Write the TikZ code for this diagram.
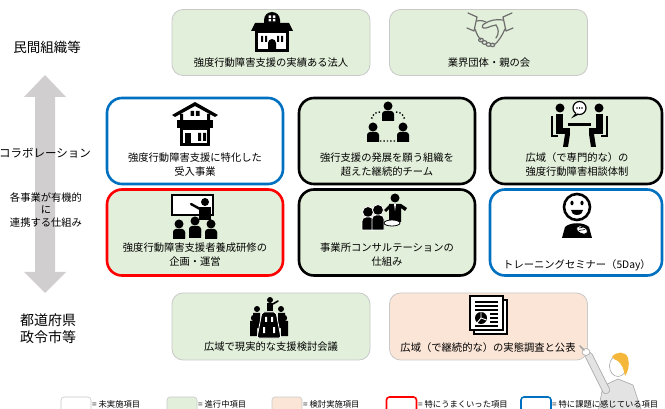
\documentclass[tikz,border=0pt]{standalone}
\usepackage{fontspec}
\setmainfont{Noto Sans CJK JP}
\definecolor{gfill}{HTML}{E2EFDA}
\definecolor{pfill}{HTML}{FBE5D6}
\definecolor{softline}{HTML}{C9C9C9}
\definecolor{bblue}{HTML}{0070C0}
\definecolor{rred}{HTML}{FF0000}
\definecolor{arrowgray}{HTML}{D0CECE}
\definecolor{hair}{HTML}{F4B73A}
\definecolor{handgray}{HTML}{6E6E6E}
\tikzset{
  softbox/.style={draw=softline, line width=0.8pt, rounded corners=11pt, inner sep=0pt},
  markbox/.style={line width=2.6pt, rounded corners=15pt, inner sep=0pt},
  boxtext/.style={font=\fontsize{10.3}{14}\selectfont, align=center, inner sep=0pt},
  legbox/.style={minimum width=30pt, minimum height=20pt, rounded corners=3pt, inner sep=0pt},
  legtext/.style={font=\fontsize{8.3}{10}\selectfont, anchor=west, inner sep=0pt},
  % a simple standing figure: head at the origin, body below
  pics/pers/.style={code={
    \fill (0,0) circle (4.5);
    \fill (-6,15) [rounded corners=3pt]-- (-6,5) -- (6,5) [sharp corners]-- (6,15) -- cycle;
  }},
  pics/bldg/.style={code={
    \fill (-8,-6) -- (-8,-12) arc[start angle=180,end angle=360,radius=8] -- (8,-6) -- cycle;
    \fill[white] (-3.4,-16.5) rectangle (-0.8,-14) (0.8,-16.5) rectangle (3.4,-14)
                 (-3.4,-13) rectangle (-0.8,-10.5) (0.8,-13) rectangle (3.4,-10.5);
    \fill (-21,-1) -- (-17,-9) -- (17,-9) -- (21,-1) -- cycle;
    \fill (-17,-2) rectangle (17,20);
    \fill[white] (-14,1) rectangle (14,17);
    \fill (-11,4) rectangle (-9,10) (-7,4) rectangle (-5,10) (5,4) rectangle (7,10) (9,4) rectangle (11,10);
    \fill (-4,20) -- (-4,11) arc[start angle=180,end angle=360,radius=4] -- (4,20) -- cycle;
  }},
  pics/shake/.style={code={
    \begin{scope}[draw=handgray, line width=1.2pt, line join=round, line cap=round]
    \draw (-22,-19) -- (-13,-15) -- (-16,-1) -- (-23,-4);
    \draw (22,-19) -- (13,-15) -- (16,-1) -- (23,-4);
    \draw (13,-12) .. controls (6,-13) and (0,-12) .. (-6,-8)
          .. controls (-9,-6) and (-8,-3) .. (-4,-4) .. controls (0,-5) and (3,-7) .. (6,-7);
    \draw (-13,-11) .. controls (-9,-12) and (-6,-11) .. (-4,-10);
    \draw (-15,-3) .. controls (-13,3) and (-11,6) .. (-9,8);
    \draw (15,-3) .. controls (12,4) and (8,10) .. (4,13);
    \draw (6,-7) .. controls (9,-3) and (9,2) .. (6,6);
    \draw (-9,8) circle[x radius=2.4, y radius=1.8] (-5.5,10.5) circle[x radius=2.4, y radius=1.8]
          (-1.5,12.5) circle[x radius=2.4, y radius=1.8] (2.5,13) circle[x radius=2.2, y radius=1.7];
    \end{scope}
  }},
  pics/house/.style={code={
    \fill (-23,-9) -- (0,-22) -- (23,-9) -- (20,-7) -- (0,-18) -- (-20,-7) -- cycle;
    \fill (-15,-10) rectangle (-12,-3) (12,-10) rectangle (15,-3);
    \fill (-4.5,-13) rectangle (-0.8,-8) (0.8,-13) rectangle (4.5,-8);
    \fill (-18,-4) rectangle (18,4);
    \fill (-15,4) rectangle (15,22);
    \fill[white] (-12,6) rectangle (12,19);
    \fill (-10,9) rectangle (-4,22);
    \fill (3,9) rectangle (6,17) (8,9) rectangle (11,17);
  }},
  pics/team/.style={code={
    \pic at (0,-18) {pers};
    \pic at (-15,3) {pers};
    \pic at (15,3) {pers};
    \draw[dotted, line width=1.4pt] (-8,-12) .. controls (-14,-11) .. (-17,-4)
          (8,-12) .. controls (14,-11) .. (17,-4) (-8,17) -- (8,17);
  }},
  pics/talk/.style={code={
    % left sitter
    \fill (-18,-16) circle (4.5);
    \fill (-22,-10) rectangle (-15,8);
    \fill (-22,4) rectangle (-8,10);
    \fill (-13,10) -- (-8,10) -- (-10,23) -- (-15,23) -- cycle;
    \draw[line width=1.8pt] (-26,-8) -- (-26,12) -- (-20,12);
    % right sitter
    \fill (21,-16) circle (4.5);
    \fill (25,-10) rectangle (18,8);
    \fill (25,4) rectangle (11,10);
    \fill (16,10) -- (11,10) -- (13,23) -- (18,23) -- cycle;
    \draw[line width=1.8pt] (29,-8) -- (29,12) -- (23,12);
    % table and speech bubble
    \fill (-10,-1) rectangle (13,2);
    \draw[line width=1.2pt, fill=white] (1.5,-16) circle (6.5);
    \fill[white] (-2,-11) -- (-5,-7) -- (0,-10) -- cycle;
    \draw[line width=1.2pt] (-2,-10.5) -- (-4.5,-7.5) -- (0,-9.8);
    \fill (-1,-16) circle (0.9) (1.5,-16) circle (0.9) (4,-16) circle (0.9);
  }},
  pics/teach/.style={code={
    \draw[line width=2.2pt, fill=white] (-23,-19) rectangle (18,1);
    \fill (10,-12) circle (4);
    \fill (4,-7) -- (16,-7) -- (16,6) -- (4,6) -- cycle;
    \draw[line width=2.4pt, line cap=round] (5,-5) -- (-4,-10);
    \pic at (-16,10) {pers};
    \pic at (16,10) {pers};
    \pic at (0,7) {pers};
    \fill (-6,15) rectangle (6,24) (-22,18) rectangle (-10,24) (10,18) rectangle (22,24);
  }},
  pics/consult/.style={code={
    \fill[draw=white, line width=0.8pt] (-19,-2) circle (5.5);
    \fill[draw=white, line width=0.8pt] (-25,16) [rounded corners=4pt]-- (-25,3) -- (-13,3) [sharp corners]-- (-13,16) -- cycle;
    \fill[draw=white, line width=0.8pt] (-9,-4) circle (5.5);
    \fill[draw=white, line width=0.8pt] (-15,16) [rounded corners=4pt]-- (-15,1) -- (-3,1) [sharp corners]-- (-3,16) -- cycle;
    \fill (8,-16) circle (4.5);
    \fill (2,8) -- (2,-10) -- (14,-10) -- (20,-6) -- (18,-3) -- (14,-6) -- (14,8) -- cycle;
    \fill (2,-9) -- (-3,-4) -- (-1,-2) -- (3,-6) -- cycle;
    \fill[white] (7,-10) -- (9,-10) -- (8,-3) -- cycle;
    \draw[line width=0.8pt, fill=white] (5,9) ellipse (8 and 3);
  }},
  pics/smile/.style={code={
    \fill (-15,23) -- (-12,12) .. controls (-7,7) and (7,7) .. (12,12) -- (15,23) -- cycle;
    \draw[line width=2.6pt, fill=white] (0,-8) circle (13);
    \fill (-5,-12) ellipse (1.6 and 2.3) (5,-12) ellipse (1.6 and 2.3);
    \fill (-6,-5) arc[start angle=180, end angle=0, x radius=6, y radius=5] -- cycle;
    \draw[line width=0.8pt, fill=white, rotate around={-25:(5,15)}] (5,15) ellipse (6 and 3.5);
    \draw[line width=0.6pt] (2,13) -- (7,12) (2,15.5) -- (8,14.5);
  }},
  pics/meet/.style={code={
    \fill (1,-18) circle (3);
    \fill (-2,-15) rectangle (4,-7);
    \draw[line width=1.6pt, line cap=round] (4,-14) -- (9,-17);
    \fill (-12,-9) circle (3) (-15,0) circle (3.2) (12,-9) circle (3) (15,0) circle (3.2);
    \fill (-16,-5) rectangle (-9,10) (-19,3) rectangle (-12,18);
    \fill (16,-5) rectangle (9,10) (19,3) rectangle (12,18);
    \fill[draw=white, line width=0.8pt, rounded corners=2pt] (-7,-6) -- (7,-6) -- (12,20) -- (-12,20) -- cycle;
    \fill[white] (-4,-1) rectangle (-2,4) (2,-1) rectangle (4,4) (-6,9) rectangle (-4,15) (4,9) rectangle (6,15);
  }},
  pics/report/.style={code={
    \draw[line width=1.8pt, fill=white] (-15,-14) rectangle (18,20);
    \draw[line width=1.8pt, fill=white] (-19,-18) rectangle (14,16);
    \draw[line width=1.5pt] (-14,-12) -- (9,-12) (-14,-8) -- (9,-8) (-14,-4) -- (9,-4)
          (1,0) -- (9,0) (1,4) -- (9,4) (1,8) -- (9,8) (-14,12) -- (9,12);
    \fill (-8,4) circle (6);
    \draw[white, line width=0.9pt] (-8,4) -- (-8,-2) (-8,4) -- (-2.5,6) (-8,4) -- (-12,9);
  }},
}
\begin{document}
\begin{tikzpicture}[x=1pt, y=-1pt]
\useasboundingbox (0,0) rectangle (665,409);
\clip (0,0) rectangle (665,409);

% vertical double arrow
\fill[arrowgray] (45,75) -- (66,97) -- (55,97) -- (55,272) -- (66,272) -- (45,293)
     -- (24,272) -- (35,272) -- (35,97) -- (24,97) -- cycle;

% level labels
\node[font=\fontsize{13.5}{16}\selectfont, inner sep=0pt] (lvtop) at (47,47) {民間組織等};
\node[font=\fontsize{11.5}{14}\selectfont, inner sep=0pt] (lvmid) at (45,153) {コラボレーション};
\node[font=\fontsize{10.3}{12.5}\selectfont, align=center, inner sep=0pt] (lvnote) at (46,210)
     {各事業が有機的\\に\\連携する仕組み};
\node[font=\fontsize{14}{17}\selectfont, align=center, inner sep=0pt] (lvbot) at (48,329)
     {都道府県\\政令市等};

% top row: private organisations
\node[softbox, fill=gfill, minimum width=198pt, minimum height=66pt] (b1) at (271,42.5) {};
\pic at (272,32) {bldg};
\node[boxtext] (b1t) at (271,63) {強度行動障害支援の実績ある法人};
\node[softbox, fill=gfill, minimum width=198pt, minimum height=66pt] (b2) at (488.5,42.5) {};
\pic at (490,32) {shake};
\node[boxtext] (b2t) at (489,63) {業界団体・親の会};

% collaboration, first row
\node[markbox, draw=bblue, fill=white, minimum width=176pt, minimum height=86pt] (m1) at (195,141) {};
\pic at (195,124) {house};
\node[boxtext] (m1t) at (195,165) {強度行動障害支援に特化した\\受入事業};
\node[markbox, draw=black, fill=gfill, minimum width=176pt, minimum height=86pt] (m2) at (387,141) {};
\pic at (388,124) {team};
\node[boxtext] (m2t) at (387,165) {強行支援の発展を願う組織を\\超えた継続的チーム};
\node[markbox, draw=black, fill=gfill, minimum width=172pt, minimum height=86pt] (m3) at (576,141) {};
\pic at (578,124) {talk};
\node[boxtext] (m3t) at (577,165) {広域（で専門的な）の\\強度行動障害相談体制};

% collaboration, second row
\node[markbox, draw=rred, fill=gfill, minimum width=176pt, minimum height=86pt] (r1) at (195,232.5) {};
\pic at (195,214) {teach};
\node[boxtext] (r1t) at (195,255) {強度行動障害支援者養成研修の\\企画・運営};
\node[markbox, draw=black, fill=gfill, minimum width=176pt, minimum height=86pt] (r2) at (387,232.5) {};
\pic at (387,214) {consult};
\node[boxtext] (r2t) at (387,255) {事業所コンサルテーションの\\仕組み};
\node[markbox, draw=bblue, fill=white, minimum width=172pt, minimum height=86pt] (r3) at (576,232.5) {};
\pic at (577,215) {smile};
\node[boxtext] (r3t) at (577,265) {トレーニングセミナー（5Day）};

% prefecture level
\node[softbox, fill=gfill, minimum width=198pt, minimum height=67pt] (c1) at (271,326.5) {};
\pic at (269,318) {meet};
\node[boxtext] (c1t) at (271,347) {広域で現実的な支援検討会議};
\node[softbox, fill=pfill, minimum width=198pt, minimum height=67pt] (c2) at (488.5,326.5) {};
\pic at (489,314) {report};
\node[boxtext] (c2t) at (488,348) {広域（で継続的な）の実態調査と公表};

% pointing figure
\fill[gray!22, draw=gray!70, line width=0.6pt] (598,412) -- (603,386) -- (618,379) -- (633,385) -- (642,412) -- cycle;
\draw[gray!70, line width=8pt, line cap=round] (606,390) -- (589,356);
\draw[gray!22, line width=6.4pt, line cap=round] (606,390) -- (589,356);
\draw[gray!70, line width=0.6pt, fill=white] (586,352) ellipse (4 and 3.5);
\draw[gray!70, line width=1.6pt, line cap=round] (584,350) -- (580,346);
\draw[gray!70, line width=0.6pt, fill=white] (618,366) ellipse (8.5 and 10.5);
\fill[hair] (612,357) .. controls (616,351) and (626,351) .. (628,358)
     .. controls (630,365) and (628,372) .. (625,376) .. controls (624,370) and (622,364) .. (618,361)
     .. controls (616,360) and (613,359) .. cycle;

% legend
\node[legbox, draw=softline, fill=white, line width=0.6pt] (k1) at (76,407) {};
\node[legtext] (k1t) at (92,404) {= 未実施項目};
\node[legbox, draw=softline, fill=gfill, line width=0.6pt] (k2) at (182,407) {};
\node[legtext] (k2t) at (198,404) {= 進行中項目};
\node[legbox, draw=softline, fill=pfill, line width=0.6pt] (k3) at (287,407) {};
\node[legtext] (k3t) at (303,404) {= 検討実施項目};
\node[legbox, draw=rred, fill=white, line width=1.6pt] (k4) at (401.5,407) {};
\node[legtext] (k4t) at (418,404) {= 特にうまくいった項目};
\node[legbox, draw=bblue, fill=white, line width=1.6pt] (k5) at (536,407) {};
\node[legtext] (k5t) at (552,404) {= 特に課題に感じている項目};
\end{tikzpicture}
\end{document}
